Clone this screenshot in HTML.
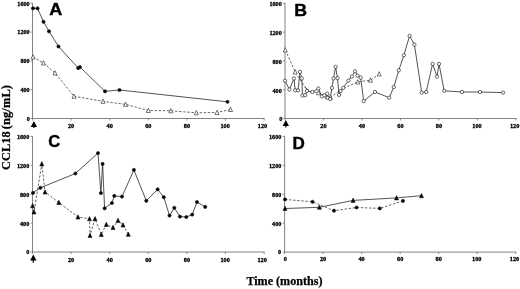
<!DOCTYPE html>
<html><head><meta charset="utf-8"><title>CCL18 over time</title>
<style>
html,body{margin:0;padding:0;background:#fff;}
body{width:520px;height:289px;overflow:hidden;}
svg{display:block;}
.bl{filter:blur(0.3px);}
.t{font-family:"Liberation Serif",serif;font-weight:bold;font-size:6.4px;fill:#000;stroke:#000;stroke-width:0.3px;}
.tx{font-size:6.5px;}
.p{font-family:"Liberation Sans",sans-serif;font-weight:bold;font-size:16.1px;fill:#000;stroke:#000;stroke-width:0.4px;}
.a{font-family:"Liberation Serif",serif;font-weight:bold;font-size:12.4px;fill:#000;stroke:#000;stroke-width:0.25px;}
</style></head><body>
<svg width="520" height="289" viewBox="0 0 520 289">
<rect width="520" height="289" fill="#fff"/>
<g><line x1="32.5" y1="2.799999999999997" x2="32.5" y2="118.5" stroke="#747474" stroke-width="0.9"/>
<line x1="32.5" y1="118.5" x2="264.6" y2="118.5" stroke="#747474" stroke-width="0.9"/>
<line x1="30.5" y1="118.5" x2="32.5" y2="118.5" stroke="#747474" stroke-width="0.8"/>
<line x1="30.5" y1="89.7" x2="32.5" y2="89.7" stroke="#747474" stroke-width="0.8"/>
<line x1="30.5" y1="60.9" x2="32.5" y2="60.9" stroke="#747474" stroke-width="0.8"/>
<line x1="30.5" y1="32.1" x2="32.5" y2="32.1" stroke="#747474" stroke-width="0.8"/>
<line x1="30.5" y1="3.3" x2="32.5" y2="3.3" stroke="#747474" stroke-width="0.8"/>
<line x1="32.5" y1="118.5" x2="32.5" y2="120.5" stroke="#747474" stroke-width="0.8"/>
<line x1="71.1" y1="118.5" x2="71.1" y2="120.5" stroke="#747474" stroke-width="0.8"/>
<line x1="109.7" y1="118.5" x2="109.7" y2="120.5" stroke="#747474" stroke-width="0.8"/>
<line x1="148.3" y1="118.5" x2="148.3" y2="120.5" stroke="#747474" stroke-width="0.8"/>
<line x1="186.9" y1="118.5" x2="186.9" y2="120.5" stroke="#747474" stroke-width="0.8"/>
<line x1="225.5" y1="118.5" x2="225.5" y2="120.5" stroke="#747474" stroke-width="0.8"/>
<line x1="264.1" y1="118.5" x2="264.1" y2="120.5" stroke="#747474" stroke-width="0.8"/>
<line x1="285.0" y1="2.799999999999997" x2="285.0" y2="118.5" stroke="#747474" stroke-width="0.9"/>
<line x1="285.0" y1="118.5" x2="516.38" y2="118.5" stroke="#747474" stroke-width="0.9"/>
<line x1="283.0" y1="118.5" x2="285.0" y2="118.5" stroke="#747474" stroke-width="0.8"/>
<line x1="283.0" y1="89.7" x2="285.0" y2="89.7" stroke="#747474" stroke-width="0.8"/>
<line x1="283.0" y1="60.9" x2="285.0" y2="60.9" stroke="#747474" stroke-width="0.8"/>
<line x1="283.0" y1="32.1" x2="285.0" y2="32.1" stroke="#747474" stroke-width="0.8"/>
<line x1="283.0" y1="3.3" x2="285.0" y2="3.3" stroke="#747474" stroke-width="0.8"/>
<line x1="285.0" y1="118.5" x2="285.0" y2="120.5" stroke="#747474" stroke-width="0.8"/>
<line x1="323.5" y1="118.5" x2="323.5" y2="120.5" stroke="#747474" stroke-width="0.8"/>
<line x1="362.0" y1="118.5" x2="362.0" y2="120.5" stroke="#747474" stroke-width="0.8"/>
<line x1="400.4" y1="118.5" x2="400.4" y2="120.5" stroke="#747474" stroke-width="0.8"/>
<line x1="438.9" y1="118.5" x2="438.9" y2="120.5" stroke="#747474" stroke-width="0.8"/>
<line x1="477.4" y1="118.5" x2="477.4" y2="120.5" stroke="#747474" stroke-width="0.8"/>
<line x1="515.9" y1="118.5" x2="515.9" y2="120.5" stroke="#747474" stroke-width="0.8"/>
<line x1="32.5" y1="135.9" x2="32.5" y2="252.0" stroke="#747474" stroke-width="0.9"/>
<line x1="32.5" y1="252.0" x2="264.6" y2="252.0" stroke="#747474" stroke-width="0.9"/>
<line x1="30.5" y1="252.0" x2="32.5" y2="252.0" stroke="#747474" stroke-width="0.8"/>
<line x1="30.5" y1="223.1" x2="32.5" y2="223.1" stroke="#747474" stroke-width="0.8"/>
<line x1="30.5" y1="194.2" x2="32.5" y2="194.2" stroke="#747474" stroke-width="0.8"/>
<line x1="30.5" y1="165.3" x2="32.5" y2="165.3" stroke="#747474" stroke-width="0.8"/>
<line x1="30.5" y1="136.4" x2="32.5" y2="136.4" stroke="#747474" stroke-width="0.8"/>
<line x1="32.5" y1="252.0" x2="32.5" y2="254.0" stroke="#747474" stroke-width="0.8"/>
<line x1="71.1" y1="252.0" x2="71.1" y2="254.0" stroke="#747474" stroke-width="0.8"/>
<line x1="109.7" y1="252.0" x2="109.7" y2="254.0" stroke="#747474" stroke-width="0.8"/>
<line x1="148.3" y1="252.0" x2="148.3" y2="254.0" stroke="#747474" stroke-width="0.8"/>
<line x1="186.9" y1="252.0" x2="186.9" y2="254.0" stroke="#747474" stroke-width="0.8"/>
<line x1="225.5" y1="252.0" x2="225.5" y2="254.0" stroke="#747474" stroke-width="0.8"/>
<line x1="264.1" y1="252.0" x2="264.1" y2="254.0" stroke="#747474" stroke-width="0.8"/>
<line x1="284.6" y1="135.89999999999998" x2="284.6" y2="252.1" stroke="#747474" stroke-width="0.9"/>
<line x1="284.6" y1="252.1" x2="516.22" y2="252.1" stroke="#747474" stroke-width="0.9"/>
<line x1="282.6" y1="252.1" x2="284.6" y2="252.1" stroke="#747474" stroke-width="0.8"/>
<line x1="282.6" y1="223.2" x2="284.6" y2="223.2" stroke="#747474" stroke-width="0.8"/>
<line x1="282.6" y1="194.2" x2="284.6" y2="194.2" stroke="#747474" stroke-width="0.8"/>
<line x1="282.6" y1="165.3" x2="284.6" y2="165.3" stroke="#747474" stroke-width="0.8"/>
<line x1="282.6" y1="136.4" x2="284.6" y2="136.4" stroke="#747474" stroke-width="0.8"/>
<line x1="284.6" y1="252.1" x2="284.6" y2="254.1" stroke="#747474" stroke-width="0.8"/>
<line x1="323.1" y1="252.1" x2="323.1" y2="254.1" stroke="#747474" stroke-width="0.8"/>
<line x1="361.6" y1="252.1" x2="361.6" y2="254.1" stroke="#747474" stroke-width="0.8"/>
<line x1="400.2" y1="252.1" x2="400.2" y2="254.1" stroke="#747474" stroke-width="0.8"/>
<line x1="438.7" y1="252.1" x2="438.7" y2="254.1" stroke="#747474" stroke-width="0.8"/>
<line x1="477.2" y1="252.1" x2="477.2" y2="254.1" stroke="#747474" stroke-width="0.8"/>
<line x1="515.7" y1="252.1" x2="515.7" y2="254.1" stroke="#747474" stroke-width="0.8"/></g>
<g class="bl">
<text transform="translate(29.9,121.1) scale(0.97,1)" text-anchor="end" class="t">0</text><text transform="translate(29.7,92.0) scale(0.97,1)" text-anchor="end" class="t">400</text><text transform="translate(29.7,63.2) scale(0.97,1)" text-anchor="end" class="t">800</text><text transform="translate(29.7,34.4) scale(0.97,1)" text-anchor="end" class="t">1200</text><text transform="translate(29.7,5.6) scale(0.97,1)" text-anchor="end" class="t">1600</text><path d="M33.9,121.1 L37.1,127.0 L34.5,127.0 L34.5,128.1 L33.3,128.1 L33.3,127.0 L30.7,127.0 Z" fill="#000"/><text transform="translate(71.1,128.4) scale(0.97,1)" text-anchor="middle" class="t tx">20</text><text transform="translate(109.7,128.4) scale(0.97,1)" text-anchor="middle" class="t tx">40</text><text transform="translate(148.3,128.4) scale(0.97,1)" text-anchor="middle" class="t tx">60</text><text transform="translate(186.9,128.4) scale(0.97,1)" text-anchor="middle" class="t tx">80</text><text transform="translate(225.2,128.4) scale(0.97,1)" text-anchor="middle" class="t tx">100</text><text transform="translate(262.5,128.4) scale(0.97,1)" text-anchor="middle" class="t tx">120</text>
<text transform="translate(282.3,121.1) scale(0.97,1)" text-anchor="end" class="t">0</text><text transform="translate(281.8,92.5) scale(0.97,1)" text-anchor="end" class="t">400</text><text transform="translate(281.8,63.7) scale(0.97,1)" text-anchor="end" class="t">800</text><text transform="translate(281.8,34.9) scale(0.97,1)" text-anchor="end" class="t">1200</text><text transform="translate(281.8,6.1) scale(0.97,1)" text-anchor="end" class="t">1600</text><path d="M285.8,120.1 L289.0,126.0 L286.40000000000003,126.0 L286.40000000000003,127.5 L285.2,127.5 L285.2,126.0 L282.6,126.0 Z" fill="#000"/><text transform="translate(323.5,128.4) scale(0.97,1)" text-anchor="middle" class="t tx">20</text><text transform="translate(362.0,128.4) scale(0.97,1)" text-anchor="middle" class="t tx">40</text><text transform="translate(400.4,128.4) scale(0.97,1)" text-anchor="middle" class="t tx">60</text><text transform="translate(438.9,128.4) scale(0.97,1)" text-anchor="middle" class="t tx">80</text><text transform="translate(477.0,128.4) scale(0.97,1)" text-anchor="middle" class="t tx">100</text><text transform="translate(514.7,128.4) scale(0.97,1)" text-anchor="middle" class="t tx">120</text>
<text transform="translate(29.3,254.4) scale(0.97,1)" text-anchor="end" class="t">0</text><text transform="translate(29.3,225.5) scale(0.97,1)" text-anchor="end" class="t">400</text><text transform="translate(29.3,196.6) scale(0.97,1)" text-anchor="end" class="t">800</text><text transform="translate(29.3,167.7) scale(0.97,1)" text-anchor="end" class="t">1200</text><text transform="translate(29.3,138.8) scale(0.97,1)" text-anchor="end" class="t">1600</text><path d="M33.3,254.6 L36.5,260.5 L33.9,260.5 L33.9,262.8 L32.699999999999996,262.8 L32.699999999999996,260.5 L30.099999999999998,260.5 Z" fill="#000"/><text transform="translate(71.1,261.9) scale(0.97,1)" text-anchor="middle" class="t tx">20</text><text transform="translate(109.7,261.9) scale(0.97,1)" text-anchor="middle" class="t tx">40</text><text transform="translate(148.3,261.9) scale(0.97,1)" text-anchor="middle" class="t tx">60</text><text transform="translate(186.9,261.9) scale(0.97,1)" text-anchor="middle" class="t tx">80</text><text transform="translate(225.2,261.9) scale(0.97,1)" text-anchor="middle" class="t tx">100</text><text transform="translate(262.1,261.9) scale(0.97,1)" text-anchor="middle" class="t tx">120</text>
<text transform="translate(281.2,254.1) scale(0.97,1)" text-anchor="end" class="t">0</text><text transform="translate(281.4,225.9) scale(0.97,1)" text-anchor="end" class="t">400</text><text transform="translate(281.4,196.9) scale(0.97,1)" text-anchor="end" class="t">800</text><text transform="translate(281.4,168.0) scale(0.97,1)" text-anchor="end" class="t">1200</text><text transform="translate(281.4,139.1) scale(0.97,1)" text-anchor="end" class="t">1600</text><text transform="translate(285.4,261.1) scale(0.97,1)" text-anchor="middle" class="t tx">0</text><text transform="translate(323.1,261.1) scale(0.97,1)" text-anchor="middle" class="t tx">20</text><text transform="translate(361.6,261.1) scale(0.97,1)" text-anchor="middle" class="t tx">40</text><text transform="translate(400.2,261.1) scale(0.97,1)" text-anchor="middle" class="t tx">60</text><text transform="translate(438.7,261.1) scale(0.97,1)" text-anchor="middle" class="t tx">80</text><text transform="translate(476.8,261.1) scale(0.97,1)" text-anchor="middle" class="t tx">100</text><text transform="translate(514.5,261.1) scale(0.97,1)" text-anchor="middle" class="t tx">120</text>
<polyline points="33.0,8.3 37.5,8.3 43.5,21.8 49.0,31.3 58.5,46.5 78.2,68.1 79.9,67.0 105.0,91.3 119.5,90.0 227.5,101.8" fill="none" stroke="#1a1a1a" stroke-width="0.75"/>
<polyline points="33.0,57.0 43.5,63.0 55.0,73.0 74.0,96.3 103.0,101.3 125.6,104.4 148.3,110.5 170.8,110.8 196.3,112.8 217.0,112.5 230.5,109.5" fill="none" stroke="#1a1a1a" stroke-width="0.68" stroke-dasharray="2.4,1.7"/>
<path d="M33.0,54.7 L35.0,59.0 L31.0,59.0 Z" fill="#fff" stroke="#1a1a1a" stroke-width="0.6" stroke-linejoin="miter"/><path d="M43.5,60.7 L45.5,65.0 L41.5,65.0 Z" fill="#fff" stroke="#1a1a1a" stroke-width="0.6" stroke-linejoin="miter"/><path d="M55.0,70.7 L57.0,75.0 L53.0,75.0 Z" fill="#fff" stroke="#1a1a1a" stroke-width="0.6" stroke-linejoin="miter"/><path d="M74.0,94.0 L76.0,98.3 L72.0,98.3 Z" fill="#fff" stroke="#1a1a1a" stroke-width="0.6" stroke-linejoin="miter"/><path d="M103.0,99.0 L105.0,103.3 L101.0,103.3 Z" fill="#fff" stroke="#1a1a1a" stroke-width="0.6" stroke-linejoin="miter"/><path d="M125.6,102.1 L127.6,106.4 L123.6,106.4 Z" fill="#fff" stroke="#1a1a1a" stroke-width="0.6" stroke-linejoin="miter"/><path d="M148.3,108.2 L150.3,112.5 L146.3,112.5 Z" fill="#fff" stroke="#1a1a1a" stroke-width="0.6" stroke-linejoin="miter"/><path d="M170.8,108.5 L172.8,112.8 L168.8,112.8 Z" fill="#fff" stroke="#1a1a1a" stroke-width="0.6" stroke-linejoin="miter"/><path d="M196.3,110.5 L198.3,114.8 L194.3,114.8 Z" fill="#fff" stroke="#1a1a1a" stroke-width="0.6" stroke-linejoin="miter"/><path d="M217.0,110.2 L219.0,114.5 L215.0,114.5 Z" fill="#fff" stroke="#1a1a1a" stroke-width="0.6" stroke-linejoin="miter"/><path d="M230.5,107.2 L232.5,111.5 L228.5,111.5 Z" fill="#fff" stroke="#1a1a1a" stroke-width="0.6" stroke-linejoin="miter"/>
<circle cx="33.0" cy="8.3" r="1.6" fill="#000" stroke="#1a1a1a" stroke-width="0.65"/><circle cx="37.5" cy="8.3" r="1.6" fill="#000" stroke="#1a1a1a" stroke-width="0.65"/><circle cx="43.5" cy="21.8" r="1.6" fill="#000" stroke="#1a1a1a" stroke-width="0.65"/><circle cx="49.0" cy="31.3" r="1.6" fill="#000" stroke="#1a1a1a" stroke-width="0.65"/><circle cx="58.5" cy="46.5" r="1.6" fill="#000" stroke="#1a1a1a" stroke-width="0.65"/><circle cx="78.2" cy="68.1" r="1.6" fill="#000" stroke="#1a1a1a" stroke-width="0.65"/><circle cx="79.9" cy="67.0" r="1.6" fill="#000" stroke="#1a1a1a" stroke-width="0.65"/><circle cx="105.0" cy="91.3" r="1.6" fill="#000" stroke="#1a1a1a" stroke-width="0.65"/><circle cx="119.5" cy="90.0" r="1.6" fill="#000" stroke="#1a1a1a" stroke-width="0.65"/><circle cx="227.5" cy="101.8" r="1.6" fill="#000" stroke="#1a1a1a" stroke-width="0.65"/>
<polyline points="285.3,50.0 295.2,72.0 306.5,89.3 312.3,92.0 318.5,92.8 327.3,96.5 330.4,97.2 343.0,88.4 357.8,82.0 370.4,80.2 379.2,74.0" fill="none" stroke="#1a1a1a" stroke-width="0.68" stroke-dasharray="2.4,1.7"/>
<polyline points="285.0,80.7 289.4,89.5 294.0,78.5 295.2,90.3 298.0,90.3 300.0,71.9 301.8,78.4 302.5,95.5 305.2,95.2 307.0,91.0 312.3,92.0 318.4,88.5 321.9,96.4 324.3,95.2 327.2,93.7 327.6,97.8 330.2,99.0 331.9,87.9 333.5,78.4 335.6,66.9 337.5,78.2 339.0,94.9 340.6,91.0 343.3,87.8 348.5,80.6 351.9,76.5 355.0,71.3 357.5,75.6 360.7,77.6 363.7,101.1 375.0,92.0 389.2,97.7 393.8,87.0 398.8,70.3 403.9,55.2 409.6,35.8 414.4,44.6 421.7,92.6 426.2,92.0 432.6,63.9 437.0,76.6 439.0,63.9 444.2,90.8 462.0,92.0 480.0,92.0 503.1,92.6" fill="none" stroke="#1a1a1a" stroke-width="0.75"/>
<line x1="305.4" y1="87.4" x2="308.6" y2="90.9" stroke="#1a1a1a" stroke-width="0.9"/>
<path d="M285.3,47.7 L287.3,52.0 L283.3,52.0 Z" fill="#fff" stroke="#1a1a1a" stroke-width="0.6" stroke-linejoin="miter"/><path d="M295.2,69.7 L297.2,74.0 L293.2,74.0 Z" fill="#fff" stroke="#1a1a1a" stroke-width="0.6" stroke-linejoin="miter"/><path d="M318.5,90.5 L320.5,94.8 L316.5,94.8 Z" fill="#fff" stroke="#1a1a1a" stroke-width="0.6" stroke-linejoin="miter"/><path d="M327.3,94.2 L329.3,98.5 L325.3,98.5 Z" fill="#fff" stroke="#1a1a1a" stroke-width="0.6" stroke-linejoin="miter"/><path d="M330.4,94.9 L332.4,99.2 L328.4,99.2 Z" fill="#fff" stroke="#1a1a1a" stroke-width="0.6" stroke-linejoin="miter"/><path d="M357.8,79.7 L359.8,84.0 L355.8,84.0 Z" fill="#fff" stroke="#1a1a1a" stroke-width="0.6" stroke-linejoin="miter"/><path d="M370.4,77.9 L372.4,82.2 L368.4,82.2 Z" fill="#fff" stroke="#1a1a1a" stroke-width="0.6" stroke-linejoin="miter"/><path d="M379.2,71.7 L381.2,76.0 L377.2,76.0 Z" fill="#fff" stroke="#1a1a1a" stroke-width="0.6" stroke-linejoin="miter"/>
<circle cx="285.0" cy="80.7" r="1.65" fill="#fff" stroke="#1a1a1a" stroke-width="0.65"/><circle cx="289.4" cy="89.5" r="1.65" fill="#fff" stroke="#1a1a1a" stroke-width="0.65"/><circle cx="294.0" cy="78.5" r="1.65" fill="#fff" stroke="#1a1a1a" stroke-width="0.65"/><circle cx="295.2" cy="90.3" r="1.65" fill="#fff" stroke="#1a1a1a" stroke-width="0.65"/><circle cx="298.0" cy="90.3" r="1.65" fill="#fff" stroke="#1a1a1a" stroke-width="0.65"/><circle cx="300.0" cy="71.9" r="1.65" fill="#fff" stroke="#1a1a1a" stroke-width="0.65"/><circle cx="301.8" cy="78.4" r="1.65" fill="#fff" stroke="#1a1a1a" stroke-width="0.65"/><circle cx="302.5" cy="95.5" r="1.65" fill="#fff" stroke="#1a1a1a" stroke-width="0.65"/><circle cx="305.2" cy="95.2" r="1.65" fill="#fff" stroke="#1a1a1a" stroke-width="0.65"/><circle cx="307.0" cy="91.0" r="1.65" fill="#fff" stroke="#1a1a1a" stroke-width="0.65"/><circle cx="312.3" cy="92.0" r="1.65" fill="#fff" stroke="#1a1a1a" stroke-width="0.65"/><circle cx="318.4" cy="88.5" r="1.65" fill="#fff" stroke="#1a1a1a" stroke-width="0.65"/><circle cx="321.9" cy="96.4" r="1.65" fill="#fff" stroke="#1a1a1a" stroke-width="0.65"/><circle cx="324.3" cy="95.2" r="1.65" fill="#fff" stroke="#1a1a1a" stroke-width="0.65"/><circle cx="327.2" cy="93.7" r="1.65" fill="#fff" stroke="#1a1a1a" stroke-width="0.65"/><circle cx="327.6" cy="97.8" r="1.65" fill="#fff" stroke="#1a1a1a" stroke-width="0.65"/><circle cx="330.2" cy="99.0" r="1.65" fill="#fff" stroke="#1a1a1a" stroke-width="0.65"/><circle cx="331.9" cy="87.9" r="1.65" fill="#fff" stroke="#1a1a1a" stroke-width="0.65"/><circle cx="333.5" cy="78.4" r="1.65" fill="#fff" stroke="#1a1a1a" stroke-width="0.65"/><circle cx="335.6" cy="66.9" r="1.65" fill="#fff" stroke="#1a1a1a" stroke-width="0.65"/><circle cx="337.5" cy="78.2" r="1.65" fill="#fff" stroke="#1a1a1a" stroke-width="0.65"/><circle cx="339.0" cy="94.9" r="1.65" fill="#fff" stroke="#1a1a1a" stroke-width="0.65"/><circle cx="340.6" cy="91.0" r="1.65" fill="#fff" stroke="#1a1a1a" stroke-width="0.65"/><circle cx="343.3" cy="87.8" r="1.65" fill="#fff" stroke="#1a1a1a" stroke-width="0.65"/><circle cx="348.5" cy="80.6" r="1.65" fill="#fff" stroke="#1a1a1a" stroke-width="0.65"/><circle cx="351.9" cy="76.5" r="1.65" fill="#fff" stroke="#1a1a1a" stroke-width="0.65"/><circle cx="355.0" cy="71.3" r="1.65" fill="#fff" stroke="#1a1a1a" stroke-width="0.65"/><circle cx="357.5" cy="75.6" r="1.65" fill="#fff" stroke="#1a1a1a" stroke-width="0.65"/><circle cx="360.7" cy="77.6" r="1.65" fill="#fff" stroke="#1a1a1a" stroke-width="0.65"/><circle cx="363.7" cy="101.1" r="1.65" fill="#fff" stroke="#1a1a1a" stroke-width="0.65"/><circle cx="375.0" cy="92.0" r="1.65" fill="#fff" stroke="#1a1a1a" stroke-width="0.65"/><circle cx="389.2" cy="97.7" r="1.65" fill="#fff" stroke="#1a1a1a" stroke-width="0.65"/><circle cx="393.8" cy="87.0" r="1.65" fill="#fff" stroke="#1a1a1a" stroke-width="0.65"/><circle cx="398.8" cy="70.3" r="1.65" fill="#fff" stroke="#1a1a1a" stroke-width="0.65"/><circle cx="403.9" cy="55.2" r="1.65" fill="#fff" stroke="#1a1a1a" stroke-width="0.65"/><circle cx="409.6" cy="35.8" r="1.65" fill="#fff" stroke="#1a1a1a" stroke-width="0.65"/><circle cx="414.4" cy="44.6" r="1.65" fill="#fff" stroke="#1a1a1a" stroke-width="0.65"/><circle cx="421.7" cy="92.6" r="1.65" fill="#fff" stroke="#1a1a1a" stroke-width="0.65"/><circle cx="426.2" cy="92.0" r="1.65" fill="#fff" stroke="#1a1a1a" stroke-width="0.65"/><circle cx="432.6" cy="63.9" r="1.65" fill="#fff" stroke="#1a1a1a" stroke-width="0.65"/><circle cx="437.0" cy="76.6" r="1.65" fill="#fff" stroke="#1a1a1a" stroke-width="0.65"/><circle cx="439.0" cy="63.9" r="1.65" fill="#fff" stroke="#1a1a1a" stroke-width="0.65"/><circle cx="444.2" cy="90.8" r="1.65" fill="#fff" stroke="#1a1a1a" stroke-width="0.65"/><circle cx="462.0" cy="92.0" r="1.65" fill="#fff" stroke="#1a1a1a" stroke-width="0.65"/><circle cx="480.0" cy="92.0" r="1.65" fill="#fff" stroke="#1a1a1a" stroke-width="0.65"/><circle cx="503.1" cy="92.6" r="1.65" fill="#fff" stroke="#1a1a1a" stroke-width="0.65"/>
<polyline points="32.6,205.8 34.0,212.0 41.8,163.9 45.0,192.0 58.8,202.5 78.0,217.0 89.5,218.8 90.0,235.5 95.0,218.8 101.3,234.5 106.3,224.5 113.0,227.5 118.0,220.5 123.0,225.0 128.3,234.3" fill="none" stroke="#1a1a1a" stroke-width="0.68" stroke-dasharray="2.4,1.7"/>
<polyline points="33.0,192.8 40.4,187.8 75.4,173.5 98.0,153.1 100.9,193.1 102.6,163.9 104.6,208.3 111.9,203.0 114.3,195.9 122.0,196.6 133.9,169.9 146.3,200.8 157.6,189.4 163.8,197.2 169.5,215.6 174.3,207.8 180.0,216.6 186.3,217.0 192.2,214.6 197.0,202.0 205.2,206.9" fill="none" stroke="#1a1a1a" stroke-width="0.75"/>
<path d="M32.6,203.5 L34.6,207.8 L30.6,207.8 Z" fill="#000" stroke="#1a1a1a" stroke-width="0.6" stroke-linejoin="miter"/><path d="M34.0,209.7 L36.0,214.0 L32.0,214.0 Z" fill="#000" stroke="#1a1a1a" stroke-width="0.6" stroke-linejoin="miter"/><path d="M41.8,161.6 L43.8,165.9 L39.8,165.9 Z" fill="#000" stroke="#1a1a1a" stroke-width="0.6" stroke-linejoin="miter"/><path d="M45.0,189.7 L47.0,194.0 L43.0,194.0 Z" fill="#000" stroke="#1a1a1a" stroke-width="0.6" stroke-linejoin="miter"/><path d="M58.8,200.2 L60.8,204.5 L56.8,204.5 Z" fill="#000" stroke="#1a1a1a" stroke-width="0.6" stroke-linejoin="miter"/><path d="M78.0,214.7 L80.0,219.0 L76.0,219.0 Z" fill="#000" stroke="#1a1a1a" stroke-width="0.6" stroke-linejoin="miter"/><path d="M89.5,216.5 L91.5,220.8 L87.5,220.8 Z" fill="#000" stroke="#1a1a1a" stroke-width="0.6" stroke-linejoin="miter"/><path d="M90.0,233.2 L92.0,237.5 L88.0,237.5 Z" fill="#000" stroke="#1a1a1a" stroke-width="0.6" stroke-linejoin="miter"/><path d="M95.0,216.5 L97.0,220.8 L93.0,220.8 Z" fill="#000" stroke="#1a1a1a" stroke-width="0.6" stroke-linejoin="miter"/><path d="M101.3,232.2 L103.3,236.5 L99.3,236.5 Z" fill="#000" stroke="#1a1a1a" stroke-width="0.6" stroke-linejoin="miter"/><path d="M106.3,222.2 L108.3,226.5 L104.3,226.5 Z" fill="#000" stroke="#1a1a1a" stroke-width="0.6" stroke-linejoin="miter"/><path d="M113.0,225.2 L115.0,229.5 L111.0,229.5 Z" fill="#000" stroke="#1a1a1a" stroke-width="0.6" stroke-linejoin="miter"/><path d="M118.0,218.2 L120.0,222.5 L116.0,222.5 Z" fill="#000" stroke="#1a1a1a" stroke-width="0.6" stroke-linejoin="miter"/><path d="M123.0,222.7 L125.0,227.0 L121.0,227.0 Z" fill="#000" stroke="#1a1a1a" stroke-width="0.6" stroke-linejoin="miter"/><path d="M128.3,232.0 L130.3,236.3 L126.3,236.3 Z" fill="#000" stroke="#1a1a1a" stroke-width="0.6" stroke-linejoin="miter"/>
<circle cx="33.0" cy="192.8" r="1.6" fill="#000" stroke="#1a1a1a" stroke-width="0.65"/><circle cx="40.4" cy="187.8" r="1.6" fill="#000" stroke="#1a1a1a" stroke-width="0.65"/><circle cx="75.4" cy="173.5" r="1.6" fill="#000" stroke="#1a1a1a" stroke-width="0.65"/><circle cx="98.0" cy="153.1" r="1.6" fill="#000" stroke="#1a1a1a" stroke-width="0.65"/><circle cx="100.9" cy="193.1" r="1.6" fill="#000" stroke="#1a1a1a" stroke-width="0.65"/><circle cx="102.6" cy="163.9" r="1.6" fill="#000" stroke="#1a1a1a" stroke-width="0.65"/><circle cx="104.6" cy="208.3" r="1.6" fill="#000" stroke="#1a1a1a" stroke-width="0.65"/><circle cx="111.9" cy="203.0" r="1.6" fill="#000" stroke="#1a1a1a" stroke-width="0.65"/><circle cx="114.3" cy="195.9" r="1.6" fill="#000" stroke="#1a1a1a" stroke-width="0.65"/><circle cx="122.0" cy="196.6" r="1.6" fill="#000" stroke="#1a1a1a" stroke-width="0.65"/><circle cx="133.9" cy="169.9" r="1.6" fill="#000" stroke="#1a1a1a" stroke-width="0.65"/><circle cx="146.3" cy="200.8" r="1.6" fill="#000" stroke="#1a1a1a" stroke-width="0.65"/><circle cx="157.6" cy="189.4" r="1.6" fill="#000" stroke="#1a1a1a" stroke-width="0.65"/><circle cx="163.8" cy="197.2" r="1.6" fill="#000" stroke="#1a1a1a" stroke-width="0.65"/><circle cx="169.5" cy="215.6" r="1.6" fill="#000" stroke="#1a1a1a" stroke-width="0.65"/><circle cx="174.3" cy="207.8" r="1.6" fill="#000" stroke="#1a1a1a" stroke-width="0.65"/><circle cx="180.0" cy="216.6" r="1.6" fill="#000" stroke="#1a1a1a" stroke-width="0.65"/><circle cx="186.3" cy="217.0" r="1.6" fill="#000" stroke="#1a1a1a" stroke-width="0.65"/><circle cx="192.2" cy="214.6" r="1.6" fill="#000" stroke="#1a1a1a" stroke-width="0.65"/><circle cx="197.0" cy="202.0" r="1.6" fill="#000" stroke="#1a1a1a" stroke-width="0.65"/><circle cx="205.2" cy="206.9" r="1.6" fill="#000" stroke="#1a1a1a" stroke-width="0.65"/>
<polyline points="285.0,199.4 312.5,201.8 334.0,210.7 356.6,207.5 379.8,208.4 402.9,200.9" fill="none" stroke="#1a1a1a" stroke-width="0.68" stroke-dasharray="2.4,1.7"/>
<polyline points="285.0,208.5 319.4,207.3 353.1,200.4 396.5,197.9 421.5,195.7" fill="none" stroke="#1a1a1a" stroke-width="0.75"/>
<path d="M285.0,206.2 L287.0,210.5 L283.0,210.5 Z" fill="#000" stroke="#1a1a1a" stroke-width="0.6" stroke-linejoin="miter"/><path d="M319.4,205.0 L321.4,209.3 L317.4,209.3 Z" fill="#000" stroke="#1a1a1a" stroke-width="0.6" stroke-linejoin="miter"/><path d="M353.1,198.1 L355.1,202.4 L351.1,202.4 Z" fill="#000" stroke="#1a1a1a" stroke-width="0.6" stroke-linejoin="miter"/><path d="M396.5,195.6 L398.5,199.9 L394.5,199.9 Z" fill="#000" stroke="#1a1a1a" stroke-width="0.6" stroke-linejoin="miter"/><path d="M421.5,193.4 L423.5,197.7 L419.5,197.7 Z" fill="#000" stroke="#1a1a1a" stroke-width="0.6" stroke-linejoin="miter"/>
<circle cx="285.0" cy="199.4" r="1.6" fill="#000" stroke="#1a1a1a" stroke-width="0.65"/><circle cx="312.5" cy="201.8" r="1.6" fill="#000" stroke="#1a1a1a" stroke-width="0.65"/><circle cx="334.0" cy="210.7" r="1.6" fill="#000" stroke="#1a1a1a" stroke-width="0.65"/><circle cx="356.6" cy="207.5" r="1.6" fill="#000" stroke="#1a1a1a" stroke-width="0.65"/><circle cx="379.8" cy="208.4" r="1.6" fill="#000" stroke="#1a1a1a" stroke-width="0.65"/><circle cx="402.9" cy="200.9" r="1.6" fill="#000" stroke="#1a1a1a" stroke-width="0.65"/>
<text transform="translate(49.2,15.3) scale(1.12,1)" class="p">A</text>
<text transform="translate(294.2,16.3) scale(1.1,1)" class="p">B</text>
<text transform="translate(48.2,147.3) scale(1.03,1)" class="p">C</text>
<text transform="translate(292.5,148.8) scale(1.06,1)" class="p">D</text>
<text transform="translate(9.8,169.9) rotate(-90)" class="a">CCL18</text>
<text transform="translate(9.8,129.3) rotate(-90)" class="a" style="font-size:12.4px;letter-spacing:0.15px">(ng/mL)</text>
<text x="284.4" y="285.4" text-anchor="middle" class="a" style="font-size:12.1px">Time (months)</text>
</g>
</svg>
</body></html>
